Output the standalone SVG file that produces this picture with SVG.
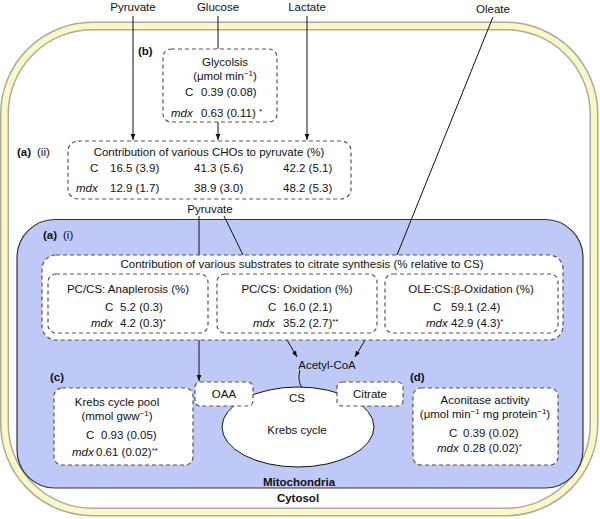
<svg xmlns="http://www.w3.org/2000/svg" width="600" height="519" viewBox="0 0 600 519">
<defs>
<style>
text{font-family:"Liberation Sans",Arial,Helvetica,sans-serif;font-size:11.5px;fill:#111}
.c{text-anchor:middle}
.b{font-weight:bold}
.i{font-style:italic}
.box{fill:#fff;stroke:#555;stroke-width:1.2;stroke-dasharray:4 3}
.ln{fill:none;stroke:#111;stroke-width:1}
.sup{font-size:8px}
</style>
<marker id="ah" viewBox="0 0 10 10" refX="10" refY="5" markerWidth="6" markerHeight="6" orient="auto" markerUnits="userSpaceOnUse">
<path d="M0,1 L10,5 L0,9 z" fill="#111"/>
</marker>
</defs>
<rect width="600" height="519" fill="#fff"/>
<g id="cell">
<rect x="4.5" y="26" width="589.5" height="486" rx="88" fill="none" stroke="#aaaaaa" stroke-width="9"/>
<rect x="4.5" y="26" width="589.5" height="486" rx="88" fill="none" stroke="#fbf8c4" stroke-width="6"/>
<text x="298" y="502" class="c b">Cytosol</text>
</g>
<g id="mitochondria">
<rect x="17" y="219.5" width="566" height="268.5" rx="38" fill="#bec9f7" stroke="#333" stroke-width="1.2"/>
<text x="299" y="486" class="c b">Mitochondria</text>
<text x="43" y="239" class="b">(a)</text><text x="63" y="239">(i)</text>
</g>
<g id="connectors">
<line class="ln" x1="133" y1="16" x2="133" y2="140" marker-end="url(#ah)"/>
<line class="ln" x1="218" y1="16" x2="218" y2="49"/>
<line class="ln" x1="218" y1="122" x2="218" y2="140" marker-end="url(#ah)"/>
<line class="ln" x1="307" y1="16" x2="307" y2="140" marker-end="url(#ah)"/>
<line class="ln" x1="493" y1="17" x2="397" y2="255"/>
<line class="ln" x1="199" y1="216" x2="199" y2="255"/>
<line class="ln" x1="224" y1="216" x2="243" y2="255"/>
<line class="ln" x1="199" y1="340" x2="199" y2="381" marker-end="url(#ah)"/>
<line class="ln" x1="287" y1="340" x2="297" y2="357" marker-end="url(#ah)"/>
<line class="ln" x1="365" y1="340" x2="355" y2="357" marker-end="url(#ah)"/>
<path class="ln" d="M300,370 Q297,380 302,388"/>
</g>
<g id="inputs">
<text x="133" y="11" class="c">Pyruvate</text>
<text x="218" y="11" class="c">Glucose</text>
<text x="307" y="11" class="c">Lactate</text>
<text x="493" y="13" class="c">Oleate</text>
</g>
<g id="glycolysis">
<text x="138" y="55" class="b">(b)</text>
<rect class="box" x="163" y="49" width="114" height="73" rx="8"/>
<text x="225" y="66" class="c">Glycolsis</text>
<text x="225" y="80" class="c">(μmol min<tspan class="sup" dy="-4">−1</tspan><tspan dy="4">)</tspan></text>
<text x="185" y="96">C</text><text x="201" y="96">0.39 (0.08)</text>
<text x="171" y="117" class="i">mdx</text><text x="201" y="117">0.63 (0.11) <tspan class="sup" dy="-3">*</tspan></text>
</g>
<g id="cho">
<text x="17" y="156" class="b">(a)</text><text x="37" y="156">(ii)</text>
<rect class="box" x="68" y="141" width="283" height="58" rx="10"/>
<text x="209" y="156" class="c">Contribution of various CHOs to pyruvate (%)</text>
<text x="90" y="172">C</text><text x="110" y="172">16.5 (3.9)</text><text x="194" y="172">41.3 (5.6)</text><text x="283" y="172">42.2 (5.1)</text>
<text x="76" y="192" class="i">mdx</text><text x="110" y="192">12.9 (1.7)</text><text x="194" y="192">38.9 (3.0)</text><text x="283" y="192">48.2 (5.3)</text>
<text x="210" y="213" class="c">Pyruvate</text>
</g>
<g id="substrates">
<rect class="box" x="42" y="255" width="521" height="85" rx="14"/>
<text x="302" y="268" class="c">Contribution of various substrates to citrate synthesis (% relative to CS)</text>
</g>
<g id="anaplerosis">
<rect class="box" x="48" y="274" width="160" height="59" rx="8"/>
<text x="128" y="293" class="c">PC/CS: Anaplerosis (%)</text>
<text x="105" y="311">C</text><text x="120" y="311">5.2 (0.3)</text>
<text x="91" y="327" class="i">mdx</text><text x="120" y="327">4.2 (0.3)<tspan class="sup" dy="-3">*</tspan></text>
</g>
<g id="oxidation">
<rect class="box" x="217" y="274" width="160" height="59" rx="8"/>
<text x="297" y="293" class="c">PC/CS: Oxidation (%)</text>
<text x="268" y="311">C</text><text x="283" y="311">16.0 (2.1)</text>
<text x="253" y="327" class="i">mdx</text><text x="283" y="327">35.2 (2.7)<tspan class="sup" dy="-3">**</tspan></text>
</g>
<g id="betaoxidation">
<rect class="box" x="385" y="274" width="173" height="59" rx="8"/>
<text x="471" y="293" class="c">OLE:CS:β-Oxidation (%)</text>
<text x="433" y="311">C</text><text x="451" y="311">59.1 (2.4)</text>
<text x="426" y="327" class="i">mdx</text><text x="451" y="327">42.9 (4.3)<tspan class="sup" dy="-3">*</tspan></text>
</g>
<g id="acetylcoa">
<text x="327" y="369" class="c">Acetyl-CoA</text>
</g>
<g id="krebs">
<ellipse cx="298" cy="427" rx="76" ry="40" fill="#fff" stroke="#111" stroke-width="1"/>
<text x="297" y="402" class="c">CS</text>
<text x="297" y="434" class="c">Krebs cycle</text>
</g>
<g id="oaa">
<rect class="box" x="195" y="382" width="58" height="24" rx="5"/>
<text x="224" y="398" class="c">OAA</text>
</g>
<g id="citrate">
<rect class="box" x="337" y="382" width="66" height="24" rx="5"/>
<text x="370" y="398" class="c">Citrate</text>
</g>
<g id="pool">
<text x="50" y="381" class="b">(c)</text>
<rect class="box" x="54" y="388" width="139" height="77" rx="8"/>
<text x="117" y="406" class="c">Krebs cycle pool</text>
<text x="117" y="420" class="c">(mmol gww<tspan class="sup" dy="-4">−1</tspan><tspan dy="4">)</tspan></text>
<text x="86" y="439">C</text><text x="101" y="439">0.93 (0.05)</text>
<text x="72" y="456" class="i">mdx</text><text x="96" y="456">0.61 (0.02)<tspan class="sup" dy="-3">**</tspan></text>
</g>
<g id="aconitase">
<text x="410" y="381" class="b">(d)</text>
<rect class="box" x="413" y="388" width="145" height="77" rx="8"/>
<text x="485" y="404" class="c">Aconitase activity</text>
<text x="485" y="418" class="c">(μmol min<tspan class="sup" dy="-4">−1</tspan><tspan dy="4"> mg protein</tspan><tspan class="sup" dy="-4">−1</tspan><tspan dy="4">)</tspan></text>
<text x="449" y="437">C</text><text x="463" y="437">0.39 (0.02)</text>
<text x="437" y="452" class="i">mdx</text><text x="463" y="452">0.28 (0.02)<tspan class="sup" dy="-3">*</tspan></text>
</g>
</svg>
